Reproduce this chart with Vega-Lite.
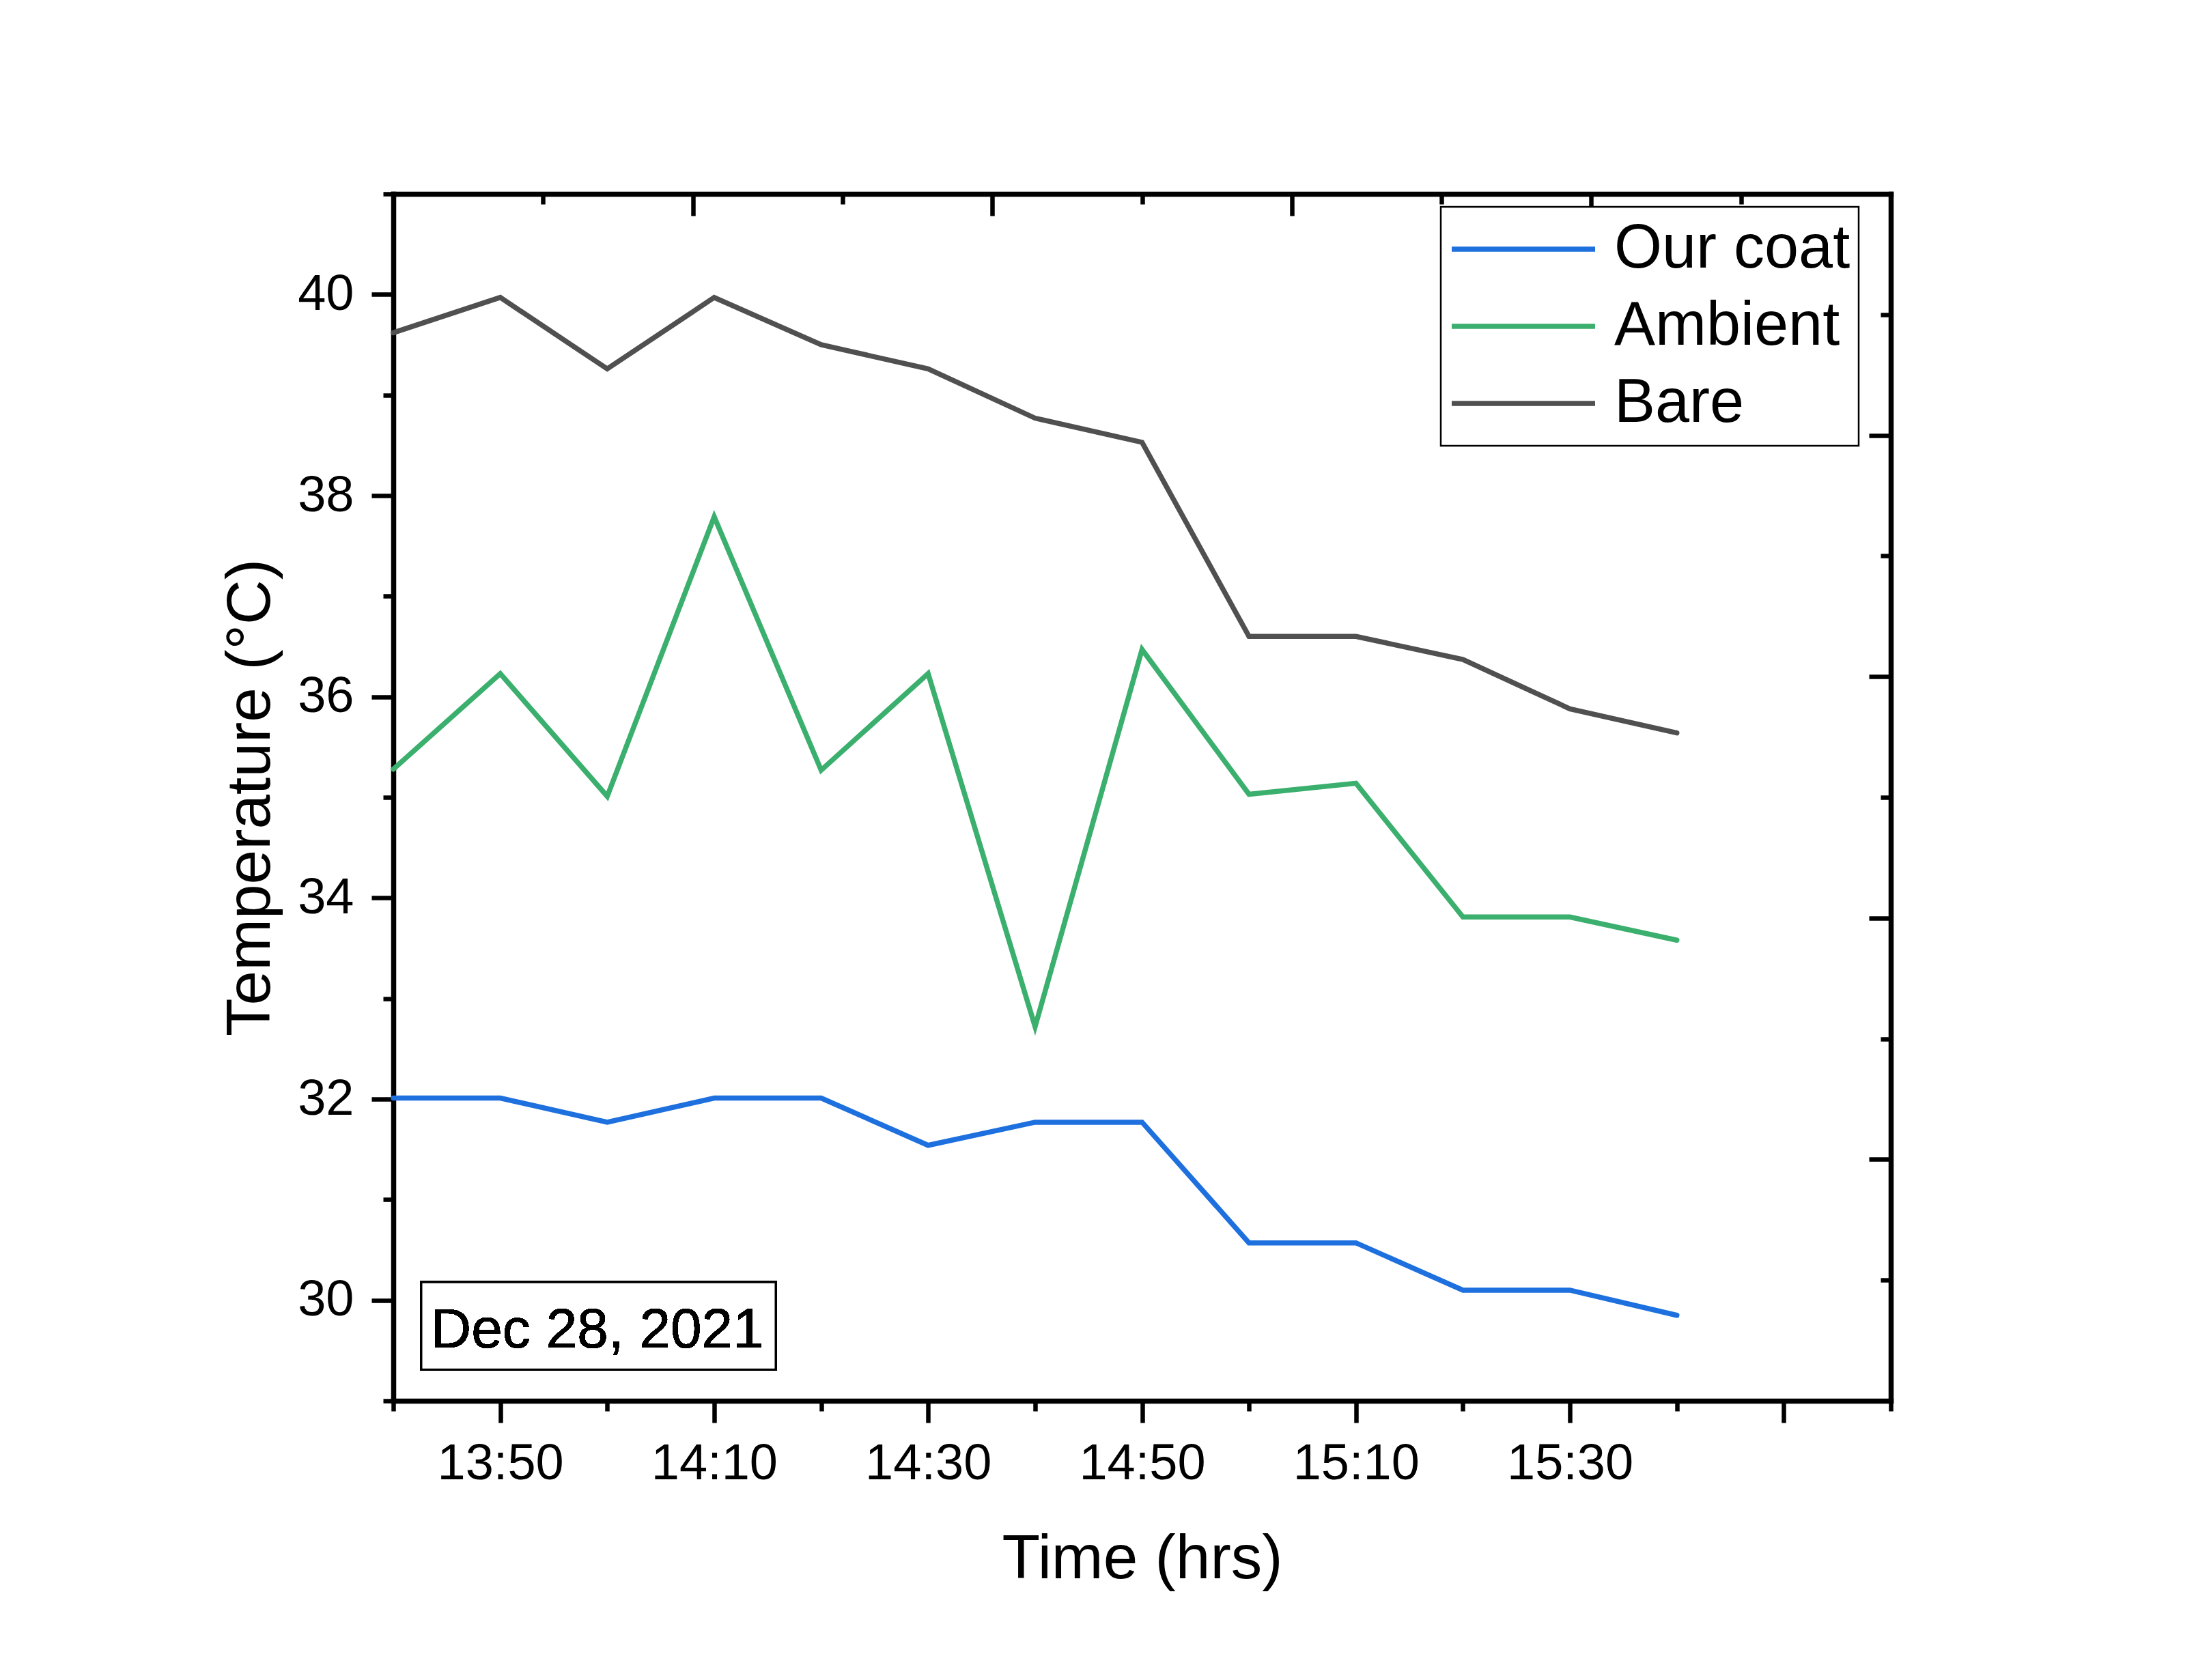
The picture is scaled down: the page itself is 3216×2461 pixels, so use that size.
{
  "$schema": "https://vega.github.io/schema/vega-lite/v6.json",
  "width": 2193,
  "height": 1768,
  "autosize": {"type": "none"},
  "padding": {"left": 576, "top": 284, "right": 447, "bottom": 409},
  "background": "white",
  "config": {
    "view": {"stroke": null},
    "font": "Liberation Sans",
    "axis": {
      "domainColor": "black",
      "domainWidth": 7.5,
      "domainCap": "square",
      "tickColor": "black",
      "tickWidth": 6.5,
      "grid": false,
      "labelColor": "black",
      "titleColor": "black",
      "labelFont": "Liberation Sans",
      "titleFont": "Liberation Sans",
      "titleFontWeight": "normal",
      "labelFontSize": 74,
      "titleFontSize": 91,
      "labelLimit": 0
    },
    "legend": {"strokeWidth": 2.5, "fillColor": "white", "labelLimit": 0}
  },
  "datasets": {
    "temps": [
      {"time": "2021-12-28T13:40:00", "series": "Our coat", "temp": 32.01},
      {"time": "2021-12-28T13:50:00", "series": "Our coat", "temp": 32.01},
      {"time": "2021-12-28T14:00:00", "series": "Our coat", "temp": 31.77},
      {"time": "2021-12-28T14:10:00", "series": "Our coat", "temp": 32.01},
      {"time": "2021-12-28T14:20:00", "series": "Our coat", "temp": 32.01},
      {"time": "2021-12-28T14:30:00", "series": "Our coat", "temp": 31.54},
      {"time": "2021-12-28T14:40:00", "series": "Our coat", "temp": 31.77},
      {"time": "2021-12-28T14:50:00", "series": "Our coat", "temp": 31.77},
      {"time": "2021-12-28T15:00:00", "series": "Our coat", "temp": 30.57},
      {"time": "2021-12-28T15:10:00", "series": "Our coat", "temp": 30.57},
      {"time": "2021-12-28T15:20:00", "series": "Our coat", "temp": 30.1},
      {"time": "2021-12-28T15:30:00", "series": "Our coat", "temp": 30.1},
      {"time": "2021-12-28T15:40:00", "series": "Our coat", "temp": 29.85},
      {"time": "2021-12-28T13:40:00", "series": "Ambient", "temp": 35.28},
      {"time": "2021-12-28T13:50:00", "series": "Ambient", "temp": 36.23},
      {"time": "2021-12-28T14:00:00", "series": "Ambient", "temp": 35.01},
      {"time": "2021-12-28T14:10:00", "series": "Ambient", "temp": 37.79},
      {"time": "2021-12-28T14:20:00", "series": "Ambient", "temp": 35.27},
      {"time": "2021-12-28T14:30:00", "series": "Ambient", "temp": 36.23},
      {"time": "2021-12-28T14:40:00", "series": "Ambient", "temp": 32.72},
      {"time": "2021-12-28T14:50:00", "series": "Ambient", "temp": 36.47},
      {"time": "2021-12-28T15:00:00", "series": "Ambient", "temp": 35.03},
      {"time": "2021-12-28T15:10:00", "series": "Ambient", "temp": 35.14},
      {"time": "2021-12-28T15:20:00", "series": "Ambient", "temp": 33.81},
      {"time": "2021-12-28T15:30:00", "series": "Ambient", "temp": 33.81},
      {"time": "2021-12-28T15:40:00", "series": "Ambient", "temp": 33.58},
      {"time": "2021-12-28T13:40:00", "series": "Bare", "temp": 39.62},
      {"time": "2021-12-28T13:50:00", "series": "Bare", "temp": 39.97},
      {"time": "2021-12-28T14:00:00", "series": "Bare", "temp": 39.26},
      {"time": "2021-12-28T14:10:00", "series": "Bare", "temp": 39.97},
      {"time": "2021-12-28T14:20:00", "series": "Bare", "temp": 39.5},
      {"time": "2021-12-28T14:30:00", "series": "Bare", "temp": 39.26},
      {"time": "2021-12-28T14:40:00", "series": "Bare", "temp": 38.77},
      {"time": "2021-12-28T14:50:00", "series": "Bare", "temp": 38.53},
      {"time": "2021-12-28T15:00:00", "series": "Bare", "temp": 36.6},
      {"time": "2021-12-28T15:10:00", "series": "Bare", "temp": 36.6},
      {"time": "2021-12-28T15:20:00", "series": "Bare", "temp": 36.37},
      {"time": "2021-12-28T15:30:00", "series": "Bare", "temp": 35.88},
      {"time": "2021-12-28T15:40:00", "series": "Bare", "temp": 35.64}
    ]
  },
  "layer": [
    {
      "data": {"name": "temps"},
      "layer": [
        {
          "mark": {"type": "line", "strokeWidth": 7.5, "strokeCap": "round", "strokeJoin": "miter"},
          "encoding": {
            "x": {
              "field": "time",
              "type": "temporal",
              "title": "Time (hrs)",
              "scale": {
                "domain": [
                  {"year": 2021, "month": 12, "date": 28, "hours": 13, "minutes": 40},
                  {"year": 2021, "month": 12, "date": 28, "hours": 16, "minutes": 0}
                ]
              },
              "axis": {
                "orient": "bottom",
                "values": [
                  {"year": 2021, "month": 12, "date": 28, "hours": 13, "minutes": 40},
                  {"year": 2021, "month": 12, "date": 28, "hours": 13, "minutes": 50},
                  {"year": 2021, "month": 12, "date": 28, "hours": 14, "minutes": 0},
                  {"year": 2021, "month": 12, "date": 28, "hours": 14, "minutes": 10},
                  {"year": 2021, "month": 12, "date": 28, "hours": 14, "minutes": 20},
                  {"year": 2021, "month": 12, "date": 28, "hours": 14, "minutes": 30},
                  {"year": 2021, "month": 12, "date": 28, "hours": 14, "minutes": 40},
                  {"year": 2021, "month": 12, "date": 28, "hours": 14, "minutes": 50},
                  {"year": 2021, "month": 12, "date": 28, "hours": 15, "minutes": 0},
                  {"year": 2021, "month": 12, "date": 28, "hours": 15, "minutes": 10},
                  {"year": 2021, "month": 12, "date": 28, "hours": 15, "minutes": 20},
                  {"year": 2021, "month": 12, "date": 28, "hours": 15, "minutes": 30},
                  {"year": 2021, "month": 12, "date": 28, "hours": 15, "minutes": 40},
                  {"year": 2021, "month": 12, "date": 28, "hours": 15, "minutes": 50},
                  {"year": 2021, "month": 12, "date": 28, "hours": 16, "minutes": 0}
                ],
                "labelExpr": "(minutes(datum.value) % 20 == 10 && !(hours(datum.value) == 15 && minutes(datum.value) == 50)) ? timeFormat(datum.value, '%H:%M') : ''",
                "tickSize": {"condition": {"test": "minutes(datum.value) % 20 == 10", "value": 32}, "value": 15},
                "labelPadding": 24,
                "labelFlush": false,
                "labelOverlap": false,
                "titlePadding": 58
              }
            },
            "y": {
              "field": "temp",
              "type": "quantitative",
              "title": "Temperature (°C)",
              "scale": {"domain": [29, 41], "nice": false, "zero": false},
              "axis": {
                "orient": "left",
                "values": [29, 30, 31, 32, 33, 34, 35, 36, 37, 38, 39, 40, 41],
                "format": ".0f",
                "labelExpr": "datum.value % 2 == 0 ? format(datum.value, '.0f') : ''",
                "tickSize": {"condition": {"test": "datum.value % 2 == 0", "value": 32}, "value": 15},
                "labelPadding": 26,
                "labelFlush": false,
                "labelOverlap": false,
                "titlePadding": 22
              }
            },
            "color": {
              "field": "series",
              "type": "nominal",
              "scale": {
                "domain": ["Our coat", "Ambient", "Bare"],
                "range": ["#1D70DE", "#3BAF6D", "#505050"]
              },
              "legend": {
                "orient": "none",
                "legendX": 1534,
                "legendY": 19,
                "title": null,
                "symbolType": "stroke",
                "symbolSize": 44100,
                "symbolStrokeWidth": 7.5,
                "labelFontSize": 90,
                "labelColor": "black",
                "labelFont": "Liberation Sans",
                "labelOffset": 24,
                "labelLimit": 0,
                "clipHeight": 100,
                "rowPadding": 13,
                "padding": 12,
                "strokeColor": "black"
              }
            }
          }
        },
        {
          "mark": {"type": "rect", "fill": "white", "stroke": "black", "strokeWidth": 3},
          "encoding": {
            "x": {"datum": {"year": 2021, "month": 12, "date": 28, "hours": 13, "minutes": 42, "seconds": 37}, "type": "temporal"},
            "x2": {"datum": {"year": 2021, "month": 12, "date": 28, "hours": 14, "minutes": 15, "seconds": 45}},
            "y": {"datum": 30.18, "type": "quantitative"},
            "y2": {"datum": 29.31}
          }
        },
        {
          "mark": {"type": "text", "text": "Dec 28, 2021", "fontSize": 82, "font": "Liberation Sans", "color": "black", "align": "center", "baseline": "alphabetic"},
          "encoding": {
            "x": {"datum": {"year": 2021, "month": 12, "date": 28, "hours": 13, "minutes": 59, "seconds": 5}, "type": "temporal"},
            "y": {"datum": 29.53, "type": "quantitative"}
          }
        }
      ]
    },
    {
      "data": {"values": [{}]},
      "mark": {"type": "point", "opacity": 0},
      "encoding": {
        "x": {
          "datum": 0,
          "type": "quantitative",
          "scale": {"domain": [0, 10], "nice": false, "zero": false},
          "axis": {
            "orient": "top",
            "title": null,
            "labels": false,
            "values": [1, 2, 3, 4, 5, 6, 7, 8, 9],
            "tickSize": {"condition": {"test": "datum.value % 2 == 0", "value": -32}, "value": -15}
          }
        },
        "y": {
          "datum": 0,
          "type": "quantitative",
          "scale": {"domain": [0, 10], "nice": false, "zero": false},
          "axis": {
            "orient": "right",
            "title": null,
            "labels": false,
            "values": [1, 2, 3, 4, 5, 6, 7, 8, 9],
            "tickSize": {"condition": {"test": "datum.value % 2 == 0", "value": -32}, "value": -15}
          }
        }
      }
    }
  ],
  "resolve": {
    "scale": {"x": "independent", "y": "independent"},
    "axis": {"x": "independent", "y": "independent"}
  }
}
